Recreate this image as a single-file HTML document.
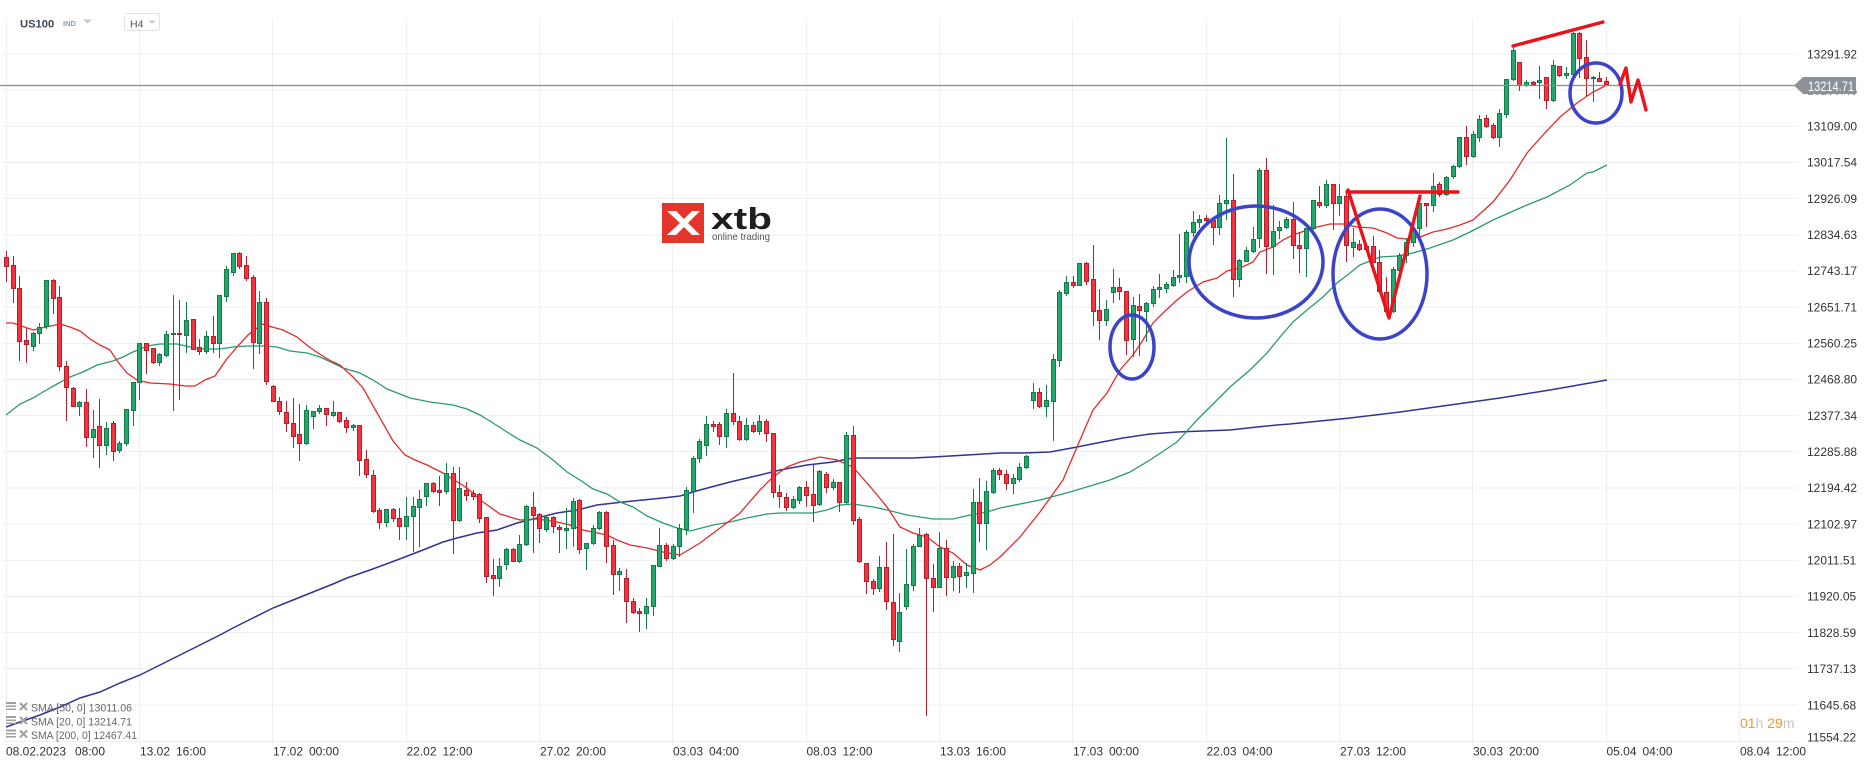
<!DOCTYPE html>
<html><head><meta charset="utf-8"><style>
html,body{margin:0;padding:0;background:#fff;width:1866px;height:767px;overflow:hidden}
svg{display:block}
text{font-family:"Liberation Sans",Arial,sans-serif}
</style></head><body>
<svg id="s" width="1866" height="767" viewBox="0 0 1866 767" xmlns="http://www.w3.org/2000/svg">
<rect width="1866" height="767" fill="#fff"/>
<path d="M2 741.5H1798M2 705H1798M2 668.5H1798M2 632.5H1798M2 596.5H1798M2 560.5H1798M2 524H1798M2 488H1798M2 451.5H1798M2 415.5H1798M2 379.5H1798M2 343.5H1798M2 307H1798M2 271H1798M2 235H1798M2 198.5H1798M2 162.5H1798M2 126.5H1798M2 90H1798M2 54H1798" stroke="#efefef" stroke-width="1" fill="none"/>
<path d="M6.5 18V745M139.5 18V745M272.5 18V745M406.5 18V745M539.5 18V745M672.5 18V745M806.5 18V745M939.5 18V745M1072.5 18V745M1206.5 18V745M1339.5 18V745M1472.5 18V745M1606.5 18V745M1739.5 18V745" stroke="#efefef" stroke-width="1" fill="none"/>

<!-- xtb logo -->
<rect x="662" y="203" width="42" height="40" fill="#e5342c"/>
<path d="M667 211 L680 223 L667 235 L676 235 L684 227 L692 235 L700 235 L688 223 L700 211 L692 211 L684 219 L676 211 Z" fill="#fff"/>
<text x="711" y="229" font-size="31" font-weight="bold" fill="#1e1e1e" textLength="61" lengthAdjust="spacingAndGlyphs">xtb</text>
<text x="712" y="240" font-size="10.5" fill="#555" textLength="58" lengthAdjust="spacingAndGlyphs">online trading</text>

<!-- SMA lines -->
<polyline fill="none" stroke="#2f3591" stroke-width="1.5" points="6,727 20,722 40,715 60,707 80,698 100,692 120,683 140,675 160,665 180,655 200,645 220,635 233,628 253,618 273,608 293,600 313,592 333,584 347,578 370,570 397,560 423,550 443,542 457,538 477,533 497,530 517,523 537,518 557,513 577,510 597,505 623,502 643,500 663,498 680,496 700,490 730,482 760,475 780,470 807,465 833,462 853,458 887,458 913,458 933,457 967,455 1000,453 1023,453 1050,452 1077,447 1097,443 1123,438 1150,434 1177,432 1203,431 1230,430 1257,427 1277,425 1290,424 1350,418 1400,412 1450,405 1500,398 1550,390 1607,380"/>
<polyline fill="none" stroke="#2b9a6e" stroke-width="1.3" points="6,415 20,404 33,398 43,392 57,384 70,377 83,372 97,365 113,361 123,357 133,352 147,346 160,344 177,344 190,347 203,349 220,349 233,347 247,346 263,346 277,347 290,351 307,353 320,357 333,363 343,368 360,373 373,380 387,389 400,394 410,398 430,402 453,405 467,409 480,415 493,423 507,432 520,440 537,448 553,460 567,472 580,480 593,489 607,494 620,502 633,507 647,516 663,523 677,528 690,531 713,525 730,522 747,518 767,514 780,513 813,513 827,510 840,505 853,504 873,507 887,510 907,515 933,519 953,519 970,515 987,512 1000,508 1040,500 1070,492 1090,486 1110,480 1130,472 1150,460 1177,442 1197,420 1217,400 1230,387 1250,370 1267,353 1280,337 1293,322 1307,310 1323,297 1337,283 1350,273 1360,265 1380,257 1397,256 1413,253 1430,248 1453,240 1470,232 1493,220 1527,205 1547,197 1570,185 1587,173 1593,172 1607,165"/>
<polyline fill="none" stroke="#e52a2a" stroke-width="1.3" points="6,323 13,323 33,330 46,327 60,324 70,327 80,331 90,339 100,345 110,350 118,362 127,373 137,380 150,383 170,384 185,386 195,386 205,380 215,376 226,360 237,347 248,335 262,324 272,327 283,330 297,337 308,346 318,353 331,361 340,365 353,377 363,388 380,418 393,441 405,455 415,460 427,465 443,473 467,488 483,502 500,514 520,520 537,519 557,522 570,525 583,530 607,535 617,540 630,545 647,548 663,552 680,555 700,543 720,528 740,513 760,490 773,477 787,467 800,462 820,457 837,460 853,467 873,490 887,507 900,527 913,533 927,537 940,547 953,553 967,565 980,570 990,565 1000,557 1020,537 1040,512 1063,480 1080,440 1093,410 1107,393 1120,370 1133,355 1143,340 1153,323 1163,313 1177,300 1187,292 1203,282 1217,278 1227,271 1240,268 1253,262 1260,252 1273,247 1283,240 1293,235 1313,228 1330,224 1343,224 1357,227 1373,228 1387,233 1397,238 1407,239 1420,237 1433,232 1447,229 1460,225 1473,220 1493,202 1510,180 1527,153 1543,135 1560,117 1577,103 1593,92 1607,85"/>

<g id="candles"></g>

<!-- current price line -->
<path d="M0 85.5H1796" stroke="#8d8d8d" stroke-width="1.2"/>

<!-- annotations -->
<g fill="none" stroke="#3b43c9" stroke-width="3.5">
<ellipse cx="1132" cy="347" rx="22" ry="32"/>
<ellipse cx="1256" cy="262" rx="67" ry="56"/>
<ellipse cx="1380" cy="274" rx="47" ry="65"/>
<ellipse cx="1596" cy="93" rx="26" ry="30"/>
</g>
<g fill="none" stroke="#e8141b" stroke-width="3.4" stroke-linecap="round" stroke-linejoin="round">
<path d="M1347 192H1458"/>
<path d="M1348 190L1389 318L1420 196"/>
<path d="M1513 46L1603 22"/>
<path d="M1620 84L1626 68L1631 102L1638 80L1646 110"/>
</g>

<!-- right axis labels -->
<g font-size="12" fill="#333">
<text x="1807" y="741.5">11554.22</text>
<text x="1807" y="709.3">11645.68</text>
<text x="1807" y="673">11737.13</text>
<text x="1807" y="636.8">11828.59</text>
<text x="1807" y="600.7">11920.05</text>
<text x="1807" y="564.5">12011.51</text>
<text x="1807" y="528.3">12102.97</text>
<text x="1807" y="492.2">12194.42</text>
<text x="1807" y="456">12285.88</text>
<text x="1807" y="419.9">12377.34</text>
<text x="1807" y="383.7">12468.80</text>
<text x="1807" y="347.5">12560.25</text>
<text x="1807" y="311.4">12651.71</text>
<text x="1807" y="275.2">12743.17</text>
<text x="1807" y="239.1">12834.63</text>
<text x="1807" y="202.9">12926.09</text>
<text x="1807" y="166.7">13017.54</text>
<text x="1807" y="130.6">13109.00</text>
<text x="1807" y="94.4">13200.46</text>
<text x="1807" y="58.3">13291.92</text>
</g>
<path d="M1794 85.5L1803 77H1856V94H1803Z" fill="#8b9398"/>
<text x="1808" y="91" font-size="13.5" fill="#fff" textLength="46" lengthAdjust="spacingAndGlyphs">13214.71</text>

<!-- time axis -->
<g font-size="12" fill="#333">
<text x="6" y="755.5">08.02.2023</text><text x="75" y="755.5">08:00</text>
<text x="140" y="755.5">13.02</text><text x="176" y="755.5">16:00</text>
<text x="273" y="755.5">17.02</text><text x="309" y="755.5">00:00</text>
<text x="406.5" y="755.5">22.02</text><text x="442.5" y="755.5">12:00</text>
<text x="540" y="755.5">27.02</text><text x="576" y="755.5">20:00</text>
<text x="673" y="755.5">03.03</text><text x="709" y="755.5">04:00</text>
<text x="806.5" y="755.5">08.03</text><text x="842.5" y="755.5">12:00</text>
<text x="940" y="755.5">13.03</text><text x="976" y="755.5">16:00</text>
<text x="1073" y="755.5">17.03</text><text x="1109" y="755.5">00:00</text>
<text x="1206.5" y="755.5">22.03</text><text x="1242.5" y="755.5">04:00</text>
<text x="1340" y="755.5">27.03</text><text x="1376" y="755.5">12:00</text>
<text x="1473" y="755.5">30.03</text><text x="1509" y="755.5">20:00</text>
<text x="1606.5" y="755.5">05.04</text><text x="1642.5" y="755.5">04:00</text>
<text x="1740" y="755.5">08.04</text><text x="1776" y="755.5">12:00</text>
</g>

<!-- countdown -->
<text x="1740" y="728" font-size="14"><tspan fill="#f7931e">01</tspan><tspan fill="#c4c4c4">h</tspan><tspan fill="#f7931e"> 29</tspan><tspan fill="#c4c4c4">m</tspan></text>

<!-- legend -->
<g fill="#a0a0a0">
<rect x="6" y="702" width="10" height="2"/><rect x="6" y="705.5" width="10" height="1.5"/><rect x="6" y="708.5" width="10" height="1.5"/>
<rect x="6" y="716" width="10" height="2"/><rect x="6" y="719.5" width="10" height="1.5"/><rect x="6" y="722.5" width="10" height="1.5"/>
<rect x="6" y="729.5" width="10" height="2"/><rect x="6" y="733" width="10" height="1.5"/><rect x="6" y="736" width="10" height="1.5"/>
</g>
<g stroke="#a0a0a0" stroke-width="2">
<path d="M20 703L27 710M27 703L20 710"/>
<path d="M20 717L27 724M27 717L20 724"/>
<path d="M20 730.5L27 737.5M27 730.5L20 737.5"/>
</g>
<g font-size="11" fill="#666">
<text x="31" y="711.5" textLength="101" lengthAdjust="spacingAndGlyphs">SMA [50, 0] 13011.06</text>
<text x="31" y="725.5" textLength="101" lengthAdjust="spacingAndGlyphs">SMA [20, 0] 13214.71</text>
<text x="31" y="739" textLength="106" lengthAdjust="spacingAndGlyphs">SMA [200, 0] 12467.41</text>
</g>

<!-- header -->
<text x="20" y="27.3" font-size="11.2" font-weight="bold" fill="#3e4651">US100</text>
<text x="63" y="26" font-size="7.5" font-weight="bold" fill="#8e9ca8">IND</text>
<path d="M83 19.5h9l-4.5 4z" fill="#c8c8c8"/>
<rect x="124.5" y="13.5" width="35" height="17" rx="2" fill="#fff" stroke="#e2e2e2"/>
<text x="130" y="27.5" font-size="10.5" fill="#555">H4</text>
<path d="M148 20.5h8l-4 3.5z" fill="#cfcfcf"/>
</svg>
<script>
(function(){
var D="r,257,267,251,282;r,265,289,256,303;r,288,342,276,361;r,340,345,328,363;g,333,347,332,351;g,327,334,323,344;g,280,327,280,329;r,280,299,279,314;r,297,367,286,371;r,366,388,361,421;r,388,407,387,407;g,402,407,401,416;r,402,438,389,447;g,429,438,410,458;r,426,446,399,468;g,428,446,422,455;r,423,452,421,461;g,443,451,441,453;g,409,444,409,446;g,382,411,382,426;g,343,383,343,400;r,343,351,343,374;r,348,363,348,364;g,354,363,353,366;g,334,356,331,357;g,333,335,295,411;r,333,335,300,400;g,320,336,302,353;r,319,350,319,350;r,347,352,339,355;g,336,352,331,354;r,336,344,316,353;g,295,344,295,358;g,269,297,266,302;g,253,273,253,276;r,253,267,252,269;r,265,279,256,281;r,277,343,275,369;g,302,344,291,354;r,302,382,298,385;r,386,402,385,402;r,401,412,397,415;r,412,424,401,432;r,423,437,398,448;r,434,444,404,461;g,410,444,405,445;g,411,417,411,429;g,408,412,405,414;r,408,415,408,426;g,412,416,401,417;r,412,422,412,423;r,420,428,417,433;g,425,428,424,431;r,425,461,425,476;r,459,475,450,478;r,475,512,470,513;r,510,523,508,529;g,509,523,509,527;r,509,519,508,522;r,518,527,508,540;g,516,527,497,540;g,506,517,497,552;g,499,508,490,547;g,483,497,483,506;r,483,492,482,493;r,490,493,476,506;g,473,492,463,494;r,473,521,467,554;g,488,521,467,522;r,490,496,482,501;r,493,497,490,500;r,494,519,493,523;r,517,577,517,583;r,575,579,559,596;g,566,579,558,587;g,549,565,548,570;r,549,562,548,562;g,544,562,535,563;g,506,545,505,546;r,507,516,492,553;r,514,529,513,543;g,517,530,515,532;r,517,527,516,533;r,527,530,525,553;g,528,531,508,549;g,501,529,498,547;r,500,550,499,554;g,543,549,543,570;g,528,544,525,545;g,512,529,511,530;r,512,547,511,563;r,545,575,540,595;g,571,575,568,591;r,578,602,569,623;r,601,613,598,614;r,611,614,608,632;g,606,614,598,629;g,565,607,565,616;g,545,567,528,567;r,545,559,543,561;g,546,559,544,560;g,528,547,524,557;g,490,530,487,535;g,458,492,456,513;g,441,459,439,463;g,424,446,416,456;r,424,427,421,432;r,424,437,422,445;g,413,437,409,448;r,413,422,373,425;r,421,440,416,441;g,425,440,418,441;r,425,432,422,433;g,421,432,415,435;r,421,434,419,442;r,433,493,433,498;r,492,497,485,508;r,497,508,493,511;g,499,508,496,509;g,487,501,486,504;r,487,496,481,507;r,494,506,465,522;g,471,505,470,506;r,474,488,472,493;g,482,488,479,490;r,482,503,482,512;g,435,503,432,504;r,435,521,426,525;r,519,562,517,563;r,563,582,563,594;r,581,589,579,595;g,567,589,556,592;r,567,602,542,610;r,602,640,534,646;g,612,642,593,652;g,584,607,549,610;g,546,586,544,591;g,535,547,528,547;r,534,579,533,716;r,578,588,564,612;g,548,588,532,588;r,548,578,540,596;g,566,578,561,591;r,566,577,563,593;g,572,576,563,588;g,502,574,489,593;r,502,524,478,542;g,491,524,481,550;g,470,493,468,494;r,470,475,468,480;r,474,484,470,490;g,478,484,474,494;g,467,480,463,482;g,456,468,455,469;g,392,401,383,409;r,392,407,388,408;g,400,407,385,417;g,359,402,354,441;g,292,361,290,367;g,282,294,276,296;r,282,286,276,288;g,263,286,263,286;r,263,282,262,285;r,279,312,245,326;r,310,321,289,340;g,309,321,300,326;g,287,293,269,303;r,287,292,278,300;r,291,341,291,355;g,305,340,297,357;r,306,311,294,356;g,303,312,302,342;g,289,304,286,307;g,287,290,274,298;g,284,289,282,293;g,277,286,270,287;g,275,278,234,283;g,232,277,230,283;g,222,233,211,237;g,219,223,215,228;r,218,221,215,222;r,220,228,220,245;g,203,228,195,235;g,200,204,138,220;r,200,280,174,297;g,260,280,259,287;g,250,262,247,262;g,239,252,227,253;g,170,239,168,248;r,170,247,158,274;g,231,247,205,275;g,227,231,221,239;g,219,228,217,229;r,219,246,202,259;r,245,249,232,273;g,228,249,228,277;g,200,229,200,230;r,202,206,186,208;g,184,206,180,208;r,184,204,184,230;g,196,204,184,216;r,196,246,190,262;g,242,248,228,257;r,244,250,240,251;r,246,250,245,252;r,246,263,236,263;r,262,292,250,293;r,292,312,277,313;g,269,312,267,313;g,255,271,253,272;g,242,256,238,263;g,229,243,227,247;g,203,229,202,237;r,203,206,203,227;g,186,206,173,212;r,184,195,182,197;g,177,195,176,196;g,166,177,165,179;g,137,167,137,168;r,137,157,126,165;g,134,157,131,158;g,119,138,115,142;r,118,127,115,128;r,125,138,123,139;g,113,138,109,147;g,79,115,79,118;g,50,80,47,81;r,62,86,62,91;g,82,86,80,87;r,82,85,81,86;g,80,83,66,99;r,77,101,77,109;g,65,101,60,102;r,66,76,66,77;g,73,76,67,79;g,33,75,32,75;r,33,59,32,78;r,57,79,40,96;g,77,79,76,102;r,78,82,72,82;r,81,85,77,85";
var wg="",wr="",bg="",br="";
D.split(";").forEach(function(s,i){
 var p=s.split(","),c=p[0],t=+p[1],b=+p[2],wt=+p[3],wb=+p[4];
 if(b-t<2){b=t+2;}
 var x=Math.round(6+i*20/3);
 var w="M"+(x+0.5)+" "+wt+"V"+wb;
 var h=b-t-1;
 var bd="M"+(x-1.5)+" "+(t+0.5)+"h4v"+h+"h-4z";
 if(c==="g"){wg+=w;bg+=bd;}else{wr+=w;br+=bd;}
});
var ns="http://www.w3.org/2000/svg",g=document.getElementById("candles");
function mk(d,attrs){var e=document.createElementNS(ns,"path");e.setAttribute("d",d);for(var k in attrs)e.setAttribute(k,attrs[k]);g.appendChild(e);}
mk(wg,{stroke:"#147a4a","stroke-width":"1",fill:"none"});
mk(wr,{stroke:"#b51f2b","stroke-width":"1",fill:"none"});
mk(bg,{stroke:"#147a4a","stroke-width":"1",fill:"#22a86c"});
mk(br,{stroke:"#b51f2b","stroke-width":"1",fill:"#f5333f"});
})();
</script>
</body></html>
